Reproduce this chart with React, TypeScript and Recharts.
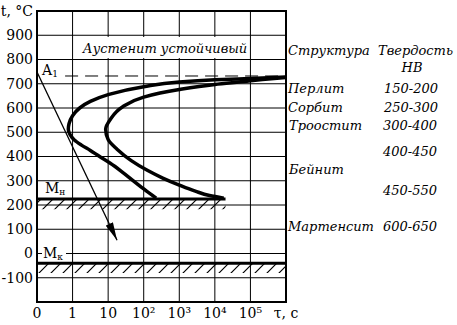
import React from 'react';
import { ComposedChart, Line, XAxis, YAxis, CartesianGrid, ReferenceArea, ReferenceLine } from 'recharts';

const xTicks = [0, 1, 2, 3, 4, 5, 6, 7];
const xLabels = ['0', '1', '10', '10²', '10³', '10⁴', '10⁵', 'τ, с'];
const yTicks = [-200, -100, 0, 100, 200, 300, 400, 500, 600, 700, 800, 900, 1000];

// начало превращения (left C-curve), x = lg(τ)+1
const startCurve = [
    { x: 7.0, y: 728 }, { x: 6.0, y: 722 }, { x: 5.0, y: 716 }, { x: 4.0, y: 707 },
    { x: 3.0, y: 688 }, { x: 2.0, y: 655 }, { x: 1.5, y: 627 }, { x: 1.2, y: 600 },
    { x: 1.0, y: 568 }, { x: 0.9, y: 535 }, { x: 0.88, y: 512 }, { x: 0.93, y: 490 },
    { x: 1.05, y: 468 }, { x: 1.25, y: 447 }, { x: 1.5, y: 425 }, { x: 1.75, y: 401 },
    { x: 2.05, y: 373 }, { x: 2.38, y: 338 }, { x: 2.7, y: 301 }, { x: 3.02, y: 264 },
    { x: 3.35, y: 228 },
];

// конец превращения (right C-curve)
const endCurve = [
    { x: 7.0, y: 726 }, { x: 6.5, y: 720 }, { x: 5.9, y: 710 }, { x: 5.0, y: 697 },
    { x: 4.0, y: 676 }, { x: 3.0, y: 645 }, { x: 2.4, y: 604 }, { x: 2.07, y: 555 },
    { x: 1.93, y: 512 }, { x: 2.0, y: 470 }, { x: 2.25, y: 430 }, { x: 2.65, y: 383 },
    { x: 3.1, y: 343 }, { x: 3.55, y: 310 }, { x: 4.0, y: 282 }, { x: 4.45, y: 257 },
    { x: 4.85, y: 239 }, { x: 5.25, y: 228 },
];

const cooling = [{ x: 0, y: 748 }, { x: 2.25, y: 55 }];

const A1 = 732;
const A1_FROM = 0.79;
const MS = 225;
const MS_END = 5.3;
const MS_HATCH = 182;
const MF = -40;
const MF_HATCH = -80;

const structures = ['Перлит', 'Сорбит', 'Троостит', 'Бейнит', 'Мартенсит'];
const hardness = ['150-200', '250-300', '300-400', '400-450', '450-550', '600-650'];

const font = 'DejaVu Serif';
const tickStyle = { fill: '#000', fontSize: 14, fontFamily: font };

const Overlay = () => (
    <svg width={457} height={325} style={{ position: 'absolute', left: 0, top: 0, pointerEvents: 'none' }}
        fontFamily={font} fontSize={13} fontStyle="italic" fill="#000">
        <rect x={80} y={37} width={168} height={21} fill="#fff" />
        <text x={165} y={48} textAnchor="middle" dominantBaseline="central">Аустенит устойчивый</text>

        <rect x={40} y={61} width={22} height={14} fill="#fff" />
        <text x={42} y={70} fontSize={14} fontStyle="normal" dominantBaseline="central">A<tspan fontSize={9} dy={4}>1</tspan></text>

        <text x={45} y={188} fontSize={14} fontStyle="normal" dominantBaseline="central">M<tspan fontSize={9} dy={4}>н</tspan></text>
        <rect x={42} y={246} width={24} height={14} fill="#fff" />
        <text x={43} y={253} fontSize={14} fontStyle="normal" dominantBaseline="central">M<tspan fontSize={9} dy={4}>к</tspan></text>

        <text x={288} y={50} dominantBaseline="central">Структура</text>
        <text x={378} y={50} dominantBaseline="central">Твердость</text>
        <text x={412} y={67} textAnchor="middle" dominantBaseline="central">НВ</text>

        <text x={288} y={88} dominantBaseline="central">{structures[0]}</text>
        <text x={288} y={107} dominantBaseline="central">{structures[1]}</text>
        <text x={289} y={125} dominantBaseline="central">{structures[2]}</text>
        <text x={289} y={169} dominantBaseline="central">{structures[3]}</text>
        <text x={288} y={226} dominantBaseline="central">{structures[4]}</text>

        <text x={411} y={88} textAnchor="middle" dominantBaseline="central">{hardness[0]}</text>
        <text x={411} y={107} textAnchor="middle" dominantBaseline="central">{hardness[1]}</text>
        <text x={410} y={125} textAnchor="middle" dominantBaseline="central">{hardness[2]}</text>
        <text x={410} y={151} textAnchor="middle" dominantBaseline="central">{hardness[3]}</text>
        <text x={410} y={190} textAnchor="middle" dominantBaseline="central">{hardness[4]}</text>
        <text x={410} y={226} textAnchor="middle" dominantBaseline="central">{hardness[5]}</text>
    </svg>
);

export default function App() {
    return (
        <div style={{ position: 'absolute', left: 0, top: 0, width: 457, height: 325, background: '#fff' }}>
            <ComposedChart width={457} height={325} margin={{ top: 11, right: 171, bottom: 0, left: 0 }}>
                <defs>
                    <pattern id="hatch" patternUnits="userSpaceOnUse" width={12} height={12}>
                        <path d="M0,12 L12,0 M-3,3 L3,-3 M9,15 L15,9" stroke="#000" strokeWidth={1.2} />
                    </pattern>
                    <marker id="arrowHead" markerWidth={18} markerHeight={8} refX={18} refY={4} orient="auto" markerUnits="userSpaceOnUse">
                        <path d="M0,0 L18,4 L0,8 z" fill="#000" />
                    </marker>
                </defs>
                <CartesianGrid stroke="#000" strokeWidth={1} />
                <XAxis type="number" dataKey="x" domain={[0, 7]} ticks={xTicks} interval={0} allowDataOverflow
                    tickFormatter={(v: number) => xLabels[v]} axisLine={false} tickLine={false}
                    tickSize={0} tickMargin={6} height={23} tick={tickStyle} />
                <YAxis type="number" dataKey="y" domain={[-200, 1000]} ticks={yTicks} interval={0} allowDataOverflow
                    tickFormatter={(v: number) => (v === 1000 ? 't, °C' : v === -200 ? '' : String(v))}
                    axisLine={false} tickLine={false} tickSize={0} tickMargin={4} width={37} tick={tickStyle} />

                <ReferenceArea x1={0} x2={MS_END} y1={MS_HATCH} y2={MS} fill="url(#hatch)" fillOpacity={1} stroke="none" />
                <ReferenceArea x1={0} x2={7} y1={MF_HATCH} y2={MF} fill="url(#hatch)" fillOpacity={1} stroke="none" />
                <ReferenceLine segment={[{ x: 0, y: MS }, { x: MS_END, y: MS }]} stroke="#000" strokeWidth={3} />
                <ReferenceLine y={MF} stroke="#000" strokeWidth={3} />
                <ReferenceLine segment={[{ x: A1_FROM, y: A1 }, { x: 7, y: A1 }]} stroke="#000" strokeWidth={1} strokeDasharray="13 7" />

                <Line data={startCurve} dataKey="y" type="monotoneY" stroke="#000" strokeWidth={3.5} dot={false} activeDot={false} isAnimationActive={false} />
                <Line data={endCurve} dataKey="y" type="monotoneY" stroke="#000" strokeWidth={3.5} dot={false} activeDot={false} isAnimationActive={false} />
                <Line data={cooling} dataKey="y" type="linear" stroke="#000" strokeWidth={1.3} dot={false} activeDot={false}
                    markerEnd="url(#arrowHead)" isAnimationActive={false} />

                <ReferenceArea x1={0} x2={7} y1={-200} y2={1000} fill="none" stroke="#000" strokeWidth={2} />
            </ComposedChart>
            <Overlay />
        </div>
    );
}
